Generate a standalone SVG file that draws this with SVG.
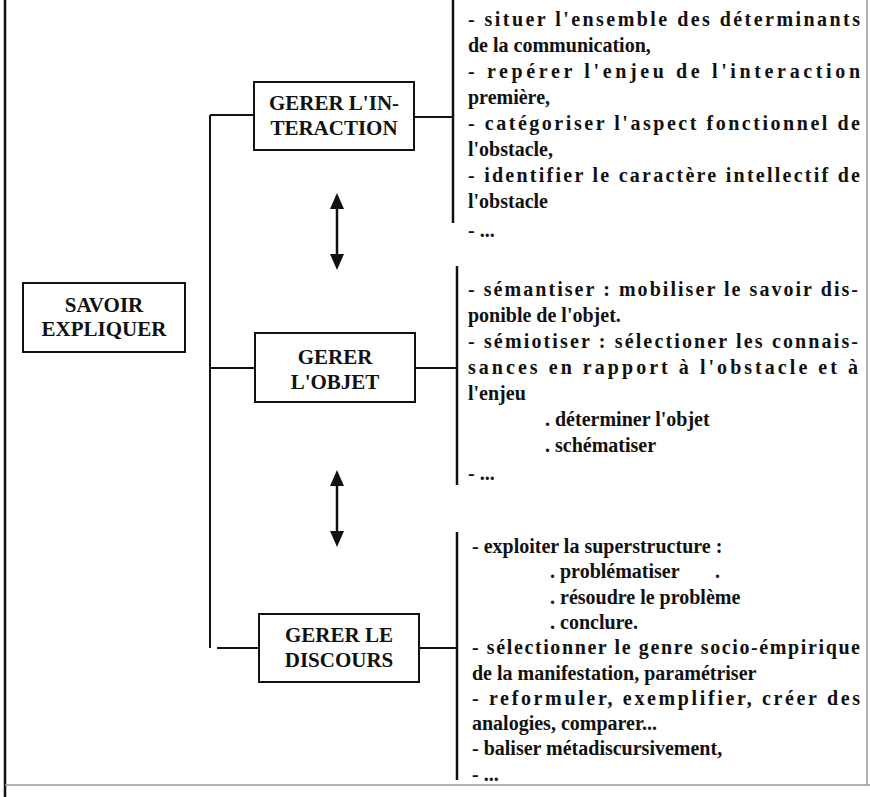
<svg xmlns="http://www.w3.org/2000/svg" width="870" height="797" viewBox="0 0 870 797">
<style>
.bg{fill:#ffffff}
.box{fill:#ffffff;stroke:#111;stroke-width:2}
.ln{stroke:#111;stroke-width:2;fill:none}
.ar{stroke:#111;stroke-width:2.5;fill:none}
.head{fill:#111;stroke:none}
.br{stroke:#111;stroke-width:2.5;fill:none}
.frame{stroke:#111;stroke-width:2.5;fill:none}
.faint{stroke:#999;stroke-width:1.5;fill:none}
.bt{font-family:"Liberation Serif","Times New Roman",serif;font-weight:bold;font-size:21px;fill:#111;text-anchor:middle}
.tx{font-family:"Liberation Serif","Times New Roman",serif;font-weight:bold;font-size:20px;fill:#111}
</style>
<rect class="bg" x="0" y="0" width="870" height="797"/>
<g id="frame">
<line class="frame" x1="5" y1="0" x2="5" y2="797"/>
<line class="faint" x1="867" y1="0" x2="867" y2="785"/>
<line class="faint" x1="5" y1="785" x2="870" y2="785"/>
</g>
<g id="connectors">
<line class="ln" x1="210" y1="115" x2="210" y2="648"/>
<line class="ln" x1="210" y1="115" x2="254" y2="115"/>
<line class="ln" x1="210" y1="368" x2="255" y2="368"/>
<line class="ln" x1="217" y1="648" x2="259" y2="648"/>
<line class="ln" x1="414" y1="117" x2="453" y2="117"/>
<line class="ln" x1="415" y1="368" x2="457" y2="368"/>
<line class="ln" x1="419" y1="648" x2="457" y2="648"/>
<line class="br" x1="453" y1="0" x2="453" y2="223"/>
<line class="br" x1="457" y1="266" x2="457" y2="485"/>
<line class="br" x1="457" y1="532" x2="457" y2="780"/>
<g id="arrow-1">
<line class="ar" x1="337" y1="205" x2="337" y2="258"/>
<polygon class="head" points="337,193 330,209 344,209"/>
<polygon class="head" points="337,270 330,254 344,254"/>
</g>
<g id="arrow-2">
<line class="ar" x1="337" y1="482" x2="337" y2="535"/>
<polygon class="head" points="337,470 330,486 344,486"/>
<polygon class="head" points="337,547 330,531 344,531"/>
</g>
</g>
<g id="n-savoir">
<rect class="box" x="23" y="283" width="162" height="69"/>
<text class="bt" x="104" y="312">SAVOIR</text>
<text class="bt" x="104" y="336">EXPLIQUER</text>
</g>
<g id="n-interaction">
<rect class="box" x="254" y="82" width="160" height="68"/>
<text class="bt" x="334" y="110">GERER L'IN-</text>
<text class="bt" x="334" y="135">TERACTION</text>
</g>
<g id="n-objet">
<rect class="box" x="255" y="333" width="160" height="69"/>
<text class="bt" x="335" y="364">GERER</text>
<text class="bt" x="335" y="389">L'OBJET</text>
</g>
<g id="n-discours">
<rect class="box" x="259" y="614" width="160" height="68"/>
<text class="bt" x="339" y="642">GERER LE</text>
<text class="bt" x="339" y="667">DISCOURS</text>
</g>
<g id="t-interaction">
<text class="tx" x="468" y="26" textLength="392" lengthAdjust="spacing">- situer l'ensemble des déterminants</text>
<text class="tx" x="468" y="52">de la communication,</text>
<text class="tx" x="468" y="78" textLength="392" lengthAdjust="spacing">- repérer l'enjeu de l'interaction</text>
<text class="tx" x="468" y="104">première,</text>
<text class="tx" x="468" y="130" textLength="392" lengthAdjust="spacing">- catégoriser l'aspect fonctionnel de</text>
<text class="tx" x="468" y="156">l'obstacle,</text>
<text class="tx" x="468" y="182" textLength="392" lengthAdjust="spacing">- identifier le caractère intellectif de</text>
<text class="tx" x="468" y="208">l'obstacle</text>
<text class="tx" x="468" y="237">- ...</text>
</g>
<g id="t-objet">
<text class="tx" x="468" y="296" textLength="390" lengthAdjust="spacing">- sémantiser : mobiliser le savoir dis-</text>
<text class="tx" x="468" y="322">ponible de l'objet.</text>
<text class="tx" x="468" y="348" textLength="390" lengthAdjust="spacing">- sémiotiser : sélectioner les connais-</text>
<text class="tx" x="468" y="374" textLength="390" lengthAdjust="spacing">sances en rapport à l'obstacle et à</text>
<text class="tx" x="468" y="400">l'enjeu</text>
<text class="tx" x="545" y="426">. déterminer l'objet</text>
<text class="tx" x="545" y="452">. schématiser</text>
<text class="tx" x="468" y="480">- ...</text>
</g>
<g id="t-discours">
<text class="tx" x="472" y="553">- exploiter la superstructure :</text>
<text class="tx" x="550" y="578">. problématiser</text>
<text class="tx" x="715" y="578">.</text>
<text class="tx" x="550" y="604">. résoudre le problème</text>
<text class="tx" x="550" y="629">. conclure.</text>
<text class="tx" x="472" y="654" textLength="388" lengthAdjust="spacing">- sélectionner le genre socio-émpirique</text>
<text class="tx" x="472" y="680">de la manifestation, paramétriser</text>
<text class="tx" x="472" y="705" textLength="388" lengthAdjust="spacing">- reformuler, exemplifier, créer des</text>
<text class="tx" x="472" y="730">analogies, comparer...</text>
<text class="tx" x="472" y="755">- baliser métadiscursivement,</text>
<text class="tx" x="472" y="781">- ...</text>
</g>
</svg>
